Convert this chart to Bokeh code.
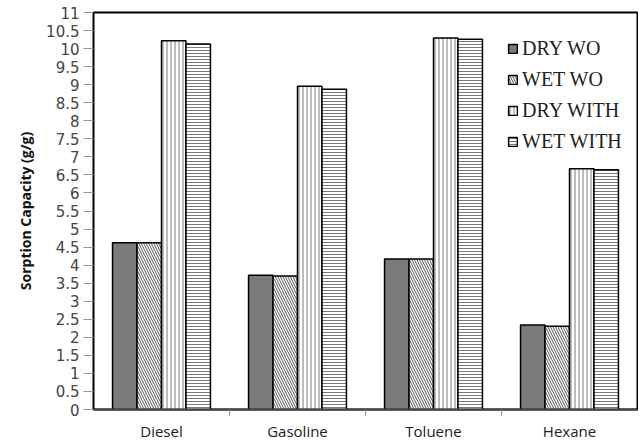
from bokeh.plotting import figure
from bokeh.models import (ColumnDataSource, Range1d, FixedTicker, CustomJSTickFormatter)
from bokeh.transform import dodge
from bokeh.embed import file_html
from bokeh.resources import INLINE

categories = ["Diesel", "Gasoline", "Toluene", "Hexane"]
dry_wo = [4.62, 3.72, 4.17, 2.34]
wet_wo = [4.62, 3.70, 4.17, 2.31]
dry_with = [10.22, 8.96, 10.29, 6.67]
wet_with = [10.13, 8.87, 10.26, 6.64]
series_names = ["DRY WO", "WET WO", "DRY WITH", "WET WITH"]
y_ticks = [i * 0.5 for i in range(23)]

centers = [i + 0.5 for i in range(len(categories))]
source = ColumnDataSource(dict(x=centers, dry_wo=dry_wo, wet_wo=wet_wo,
                               dry_with=dry_with, wet_with=wet_with))

p = figure(width=638, height=443, output_backend="svg", toolbar_location=None,
           x_range=Range1d(0, 4), y_range=Range1d(0, 11),
           min_border_left=93, min_border_right=1, min_border_top=12,
           min_border_bottom=30)

bw = 0.18
styles = [
    ("dry_wo", -0.27, dict(fill_color="#7a7a7a")),
    ("wet_wo", -0.09, dict(fill_color="white", hatch_pattern="left_diagonal_line",
                            hatch_color="#555555", hatch_scale=5, hatch_weight=1)),
    ("dry_with", 0.09, dict(fill_color="white", hatch_pattern="vertical_line",
                             hatch_color="#7a7a7a", hatch_scale=4, hatch_weight=1)),
    ("wet_with", 0.27, dict(fill_color="white", hatch_pattern="horizontal_line",
                             hatch_color="#7a7a7a", hatch_scale=3, hatch_weight=1)),
]
for (col, off, st), name in zip(styles, series_names):
    p.vbar(x=dodge("x", off, range=p.x_range), top=col, width=bw, bottom=0,
           source=source, line_color="black", line_width=1.5,
           legend_label=name, **st)

p.xgrid.visible = False
p.ygrid.visible = False
p.outline_line_color = "black"
p.outline_line_width = 2

xa = p.xaxis[0]
xa.ticker = FixedTicker(ticks=centers, minor_ticks=[1, 2, 3])
xa.major_label_overrides = {c: n for c, n in zip(centers, categories)}
xa.major_tick_line_color = None
xa.major_tick_out = 0
xa.minor_tick_out = 6
xa.minor_tick_in = 0
xa.minor_tick_line_color = "#888888"
xa.axis_line_color = "#444444"
xa.axis_line_width = 2
xa.major_label_text_font = "Open Sans"
xa.major_label_text_font_size = "15px"
xa.major_label_text_color = "#222222"
xa.major_label_standoff = 5

ya = p.yaxis[0]
ya.ticker = FixedTicker(ticks=y_ticks)
ya.formatter = CustomJSTickFormatter(code="return tick.toString()")
ya.major_tick_out = 10
ya.major_tick_in = 0
ya.minor_tick_line_color = None
ya.major_tick_line_color = "#999999"
ya.axis_line_color = None
ya.major_label_text_font = "DejaVu Sans"
ya.major_label_text_font_size = "15px"
ya.major_label_text_color = "#444444"
ya.major_label_standoff = 4
ya.axis_label = "Sorption Capacity (g/g)"
ya.axis_label_text_font = "Open Sans"
ya.axis_label_text_font_style = "bold"
ya.axis_label_text_font_size = "14px"
ya.axis_label_text_color = "#111111"
ya.axis_label_standoff = 8

lg = p.legend[0]
lg.location = (414, 256)
lg.margin = 0
lg.padding = 5
lg.border_line_color = None
lg.background_fill_alpha = 0
lg.label_text_font = "Liberation Serif"
lg.label_text_font_size = "20px"
lg.label_text_color = "#222222"
lg.glyph_width = 11
lg.glyph_height = 11
lg.label_height = 20
lg.label_standoff = 4
lg.spacing = 8

open("out.html", "w").write(file_html(p, INLINE))
